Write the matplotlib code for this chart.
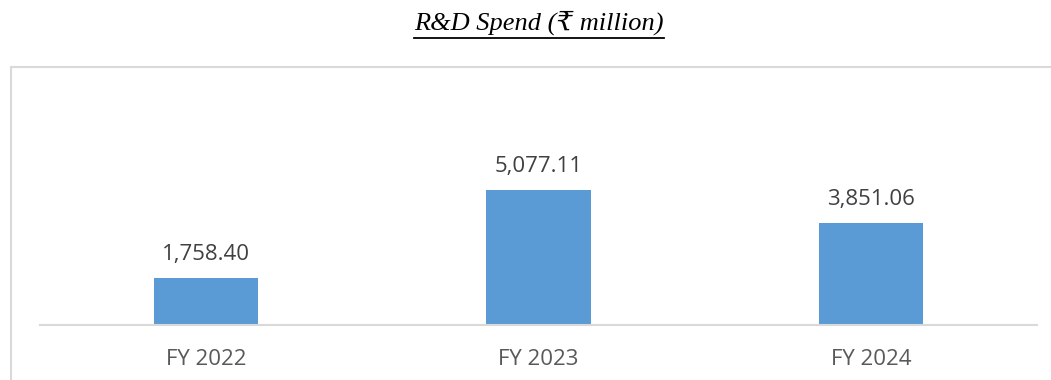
import matplotlib
matplotlib.use('Agg')
import matplotlib.pyplot as plt
from matplotlib.patches import Rectangle
from matplotlib.lines import Line2D

# data
years = ['FY 2022', 'FY 2023', 'FY 2024']
spend = [1758.40, 5077.11, 3851.06]

W, H = 1051, 380
fig = plt.figure(figsize=(W / 100, H / 100), dpi=100)

# chart area border (runs off the right/bottom edge)
fig.patches.append(Rectangle((11 / W, -0.1), 1.2, 1 - 67 / H + 0.1,
                             transform=fig.transFigure, fill=False,
                             edgecolor='#d9d9d9', linewidth=1.5))

ax = fig.add_axes([40 / W, 1 - 325 / H, 997 / W, 225 / H])
x = range(len(years))
bars = ax.bar(x, spend, width=0.313, color='#5B9BD5')
ax.set_xlim(-0.5, 2.5)
ax.set_ylim(0, 8460)
for s in ['top', 'right', 'left']:
    ax.spines[s].set_visible(False)
ax.spines['bottom'].set_color('#d9d9d9')
ax.spines['bottom'].set_linewidth(1.5)
ax.set_yticks([])
ax.set_xticks(list(x))
ax.set_xticklabels(years, fontsize=16, color='#595959', family='Open Sans')
ax.tick_params(axis='x', length=0, pad=17)

for xi, v in zip(x, spend):
    ax.annotate('{:,.2f}'.format(v), (xi, v), xytext=(0, 13),
                textcoords='offset pixels', ha='center', va='bottom',
                fontsize=16, color='#404040', family='Open Sans')

# title with underline
t = fig.text(539 / W, 1 - 23 / H, 'R&D Spend (\u20b9 million)', ha='center', va='center',
             fontsize=19, style='italic', family=['Liberation Serif', 'DejaVu Serif'])
fig.canvas.draw()
bb = t.get_window_extent()
fig.lines.append(Line2D([bb.x0 / W, bb.x1 / W], [1 - 38 / H, 1 - 38 / H],
                        transform=fig.transFigure, color='black', linewidth=1.3))

fig.savefig('out.png', dpi=100)
